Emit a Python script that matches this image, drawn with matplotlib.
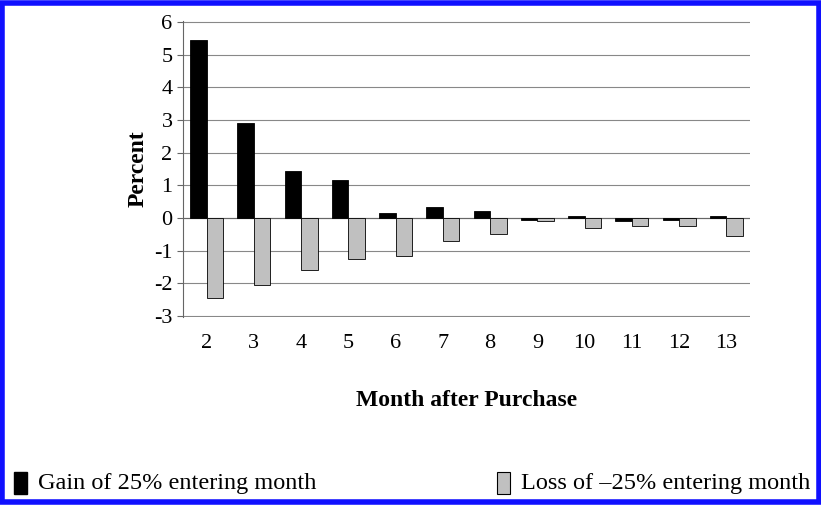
import matplotlib.pyplot as plt
import numpy as np
from matplotlib.patches import Rectangle

plt.rcParams['font.family'] = ['Liberation Serif', 'DejaVu Serif']
plt.rcParams['axes.unicode_minus'] = False

months = [2, 3, 4, 5, 6, 7, 8, 9, 10, 11, 12, 13]
gain = [5.45, 2.9, 1.45, 1.15, 0.15, 0.35, 0.2, -0.05, 0.05, -0.1, -0.05, 0.05]
loss = [-2.45, -2.05, -1.6, -1.25, -1.15, -0.7, -0.5, -0.1, -0.3, -0.25, -0.25, -0.55]

fig = plt.figure(figsize=(8.21, 5.05), dpi=100)
ax = fig.add_axes([183/821, 1-317/505, (750-183)/821, (317-21)/505])

x = np.arange(len(months))
w = 0.35
ax.bar(x - w/2, gain, w, color='black', edgecolor='black', linewidth=0.6, zorder=3)
ax.bar(x + w/2, loss, w, color='#c0c0c0', edgecolor='black', linewidth=0.6, zorder=3)

ax.set_ylim(-3.03, 6.03)
ax.set_yticks(range(-3, 7))
ax.set_xlim(-0.5, len(months) - 0.5)
ax.set_xticks(x)
ax.set_xticklabels(months)
ax.yaxis.grid(True, color='#888888', linewidth=0.8, zorder=0)
ax.axhline(0, color='#666666', linewidth=0.8, zorder=2)
for s in ['top', 'right', 'bottom']:
    ax.spines[s].set_visible(False)
ax.spines['left'].set_color('#666666')
ax.tick_params(axis='x', length=0, labelsize=16, pad=12)
ax.tick_params(axis='y', labelsize=16, length=4, color='#666666')
ax.set_ylabel('Percent', fontsize=17, fontweight='bold')
ax.set_xlabel('Month after Purchase', fontsize=17, fontweight='bold', labelpad=27)

# legend entries at bottom
fig.patches.append(Rectangle((14/821, 1-494/505), 13/821, 22/505, transform=fig.transFigure,
                             facecolor='black', edgecolor='black'))
fig.text(38/821, 1-484/505, 'Gain of 25% entering month', fontsize=17.5, va='center')
fig.patches.append(Rectangle((497/821, 1-494/505), 13/821, 22/505, transform=fig.transFigure,
                             facecolor='#c0c0c0', edgecolor='black', linewidth=0.8))
fig.text(521/821, 1-484/505, 'Loss of \u201325% entering month', fontsize=17.5, va='center')

# blue border
fig.patches.append(Rectangle((0.003, 0.005), 0.994, 0.99, transform=fig.transFigure,
                             facecolor='none', edgecolor='#1010ff', linewidth=4))

fig.savefig('out.png', dpi=100)
